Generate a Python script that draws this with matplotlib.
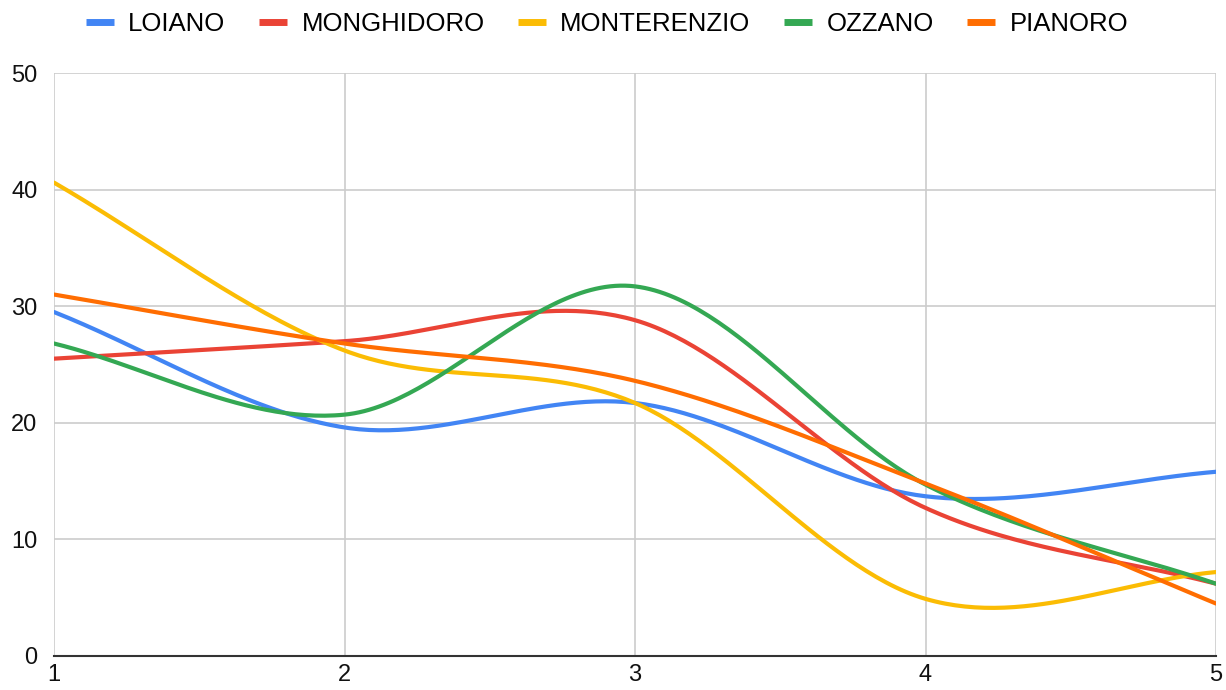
#!/usr/bin/env python3
# -*- coding: utf-8 -*-

import numpy as np
from matplotlib import pyplot as plt
from matplotlib.lines import Line2D

x_vals = [1, 2, 3, 4, 5]
loiano      = [29.5, 19.6, 21.7, 13.7, 15.8]
monghidoro  = [25.5, 27.0, 28.8, 12.7, 6.2]
monterenzio = [40.6, 26.2, 21.7, 4.9, 7.2]
ozzano      = [26.8, 20.7, 31.7, 14.7, 6.2]
pianoro     = [31.0, 26.8, 23.6, 14.8, 4.5]

series = [("LOIANO", loiano, "#4285F4"),
          ("MONGHIDORO", monghidoro, "#EA4335"),
          ("MONTERENZIO", monterenzio, "#FBBC04"),
          ("OZZANO", ozzano, "#34A853"),
          ("PIANORO", pianoro, "#FF6D01")]


def smooth(xs, ys, n=60):
    """Cardinal (Catmull-Rom) spline through the points, for drawing only."""
    xs = np.asarray(xs, float)
    ys = np.asarray(ys, float)
    m = np.zeros_like(ys)
    m[1:-1] = (ys[2:] - ys[:-2]) / (xs[2:] - xs[:-2])
    m[0] = (ys[1] - ys[0]) / (xs[1] - xs[0])
    m[-1] = (ys[-1] - ys[-2]) / (xs[-1] - xs[-2])
    outx, outy = [], []
    for i in range(len(xs) - 1):
        h = xs[i + 1] - xs[i]
        t = np.linspace(0, 1, n)
        h00 = 2 * t**3 - 3 * t**2 + 1
        h10 = t**3 - 2 * t**2 + t
        h01 = -2 * t**3 + 3 * t**2
        h11 = t**3 - t**2
        outx.extend(xs[i] + t * h)
        outy.extend(h00 * ys[i] + h10 * h * m[i] + h01 * ys[i + 1] + h11 * h * m[i + 1])
    return np.array(outx), np.array(outy)


plt.rcParams['font.family'] = ['Liberation Sans', 'DejaVu Sans']

fig = plt.figure(figsize=(12.26, 6.9), dpi=100)
ax = fig.add_axes([54 / 1226, 34 / 690, 1162 / 1226, 583 / 690])

handles = []
for name, vals, color in series:
    sx, sy = smooth(x_vals, vals)
    ax.plot(sx, sy, color=color, lw=3, solid_capstyle='round', zorder=3)
    handles.append(Line2D([], [], color=color, lw=5, solid_capstyle='butt', label=name))

ax.set_xlim(1, 5)
ax.set_ylim(0, 50)
ax.set_xticks(x_vals)
ax.set_yticks([0, 10, 20, 30, 40, 50])
ax.grid(True, color="#cccccc", lw=1.2)
ax.set_axisbelow(True)
for side in ["top", "right", "left"]:
    ax.spines[side].set_visible(False)
ax.spines["bottom"].set_color("#333333")
ax.spines["bottom"].set_linewidth(1.5)
ax.spines["bottom"].set_zorder(4)
ax.tick_params(length=0, labelsize=17, colors="#111111")
ax.tick_params(axis="x", pad=6)
ax.tick_params(axis="y", pad=12)

ax.legend(handles=handles, loc="upper center", bbox_to_anchor=(553 / 1162, 1 + 71 / 583),
          ncol=5, frameon=False, fontsize=18.5, handlelength=1.1, handletextpad=0.55,
          columnspacing=1.3, borderaxespad=0)

fig.savefig("out.png", dpi=100)
